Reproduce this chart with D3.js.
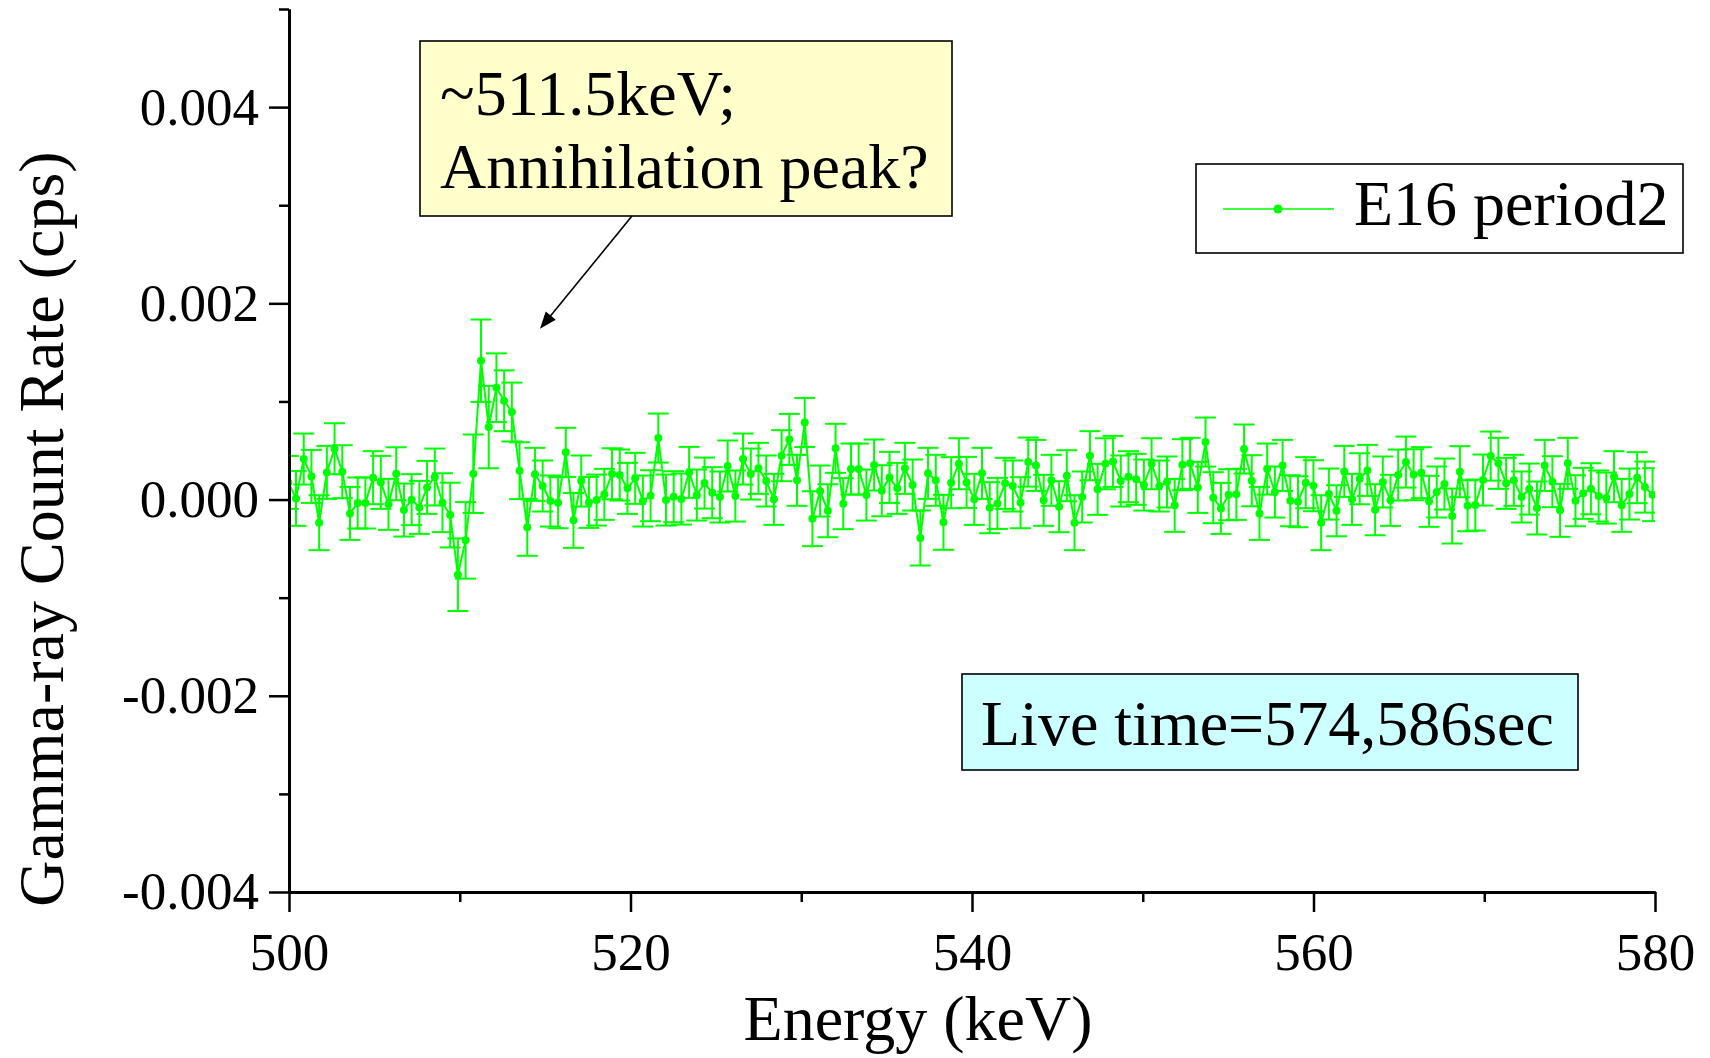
<!DOCTYPE html>
<html>
<head>
<meta charset="utf-8">
<script src="https://cdn.jsdelivr.net/npm/d3@7"></script>
<style>
    html, body { margin: 0; padding: 0; background: #ffffff; }
    svg { display: block; font-family: 'Liberation Serif', 'Times New Roman', serif; }
</style>
</head>
<body>
<svg id="chart" width="1710" height="1058"></svg>
<script>
'use strict';

// channel calibration of the spectrum (keV per channel)
var energyStart = 499.96,
    energyStep = 0.4514;

// net count rate per channel (cps)
var rate = [
    1.75e-4, 0.12e-4, 4.13e-4, 2.36e-4, -2.36e-4, 2.77e-4, 5.18e-4, 2.84e-4, -1.41e-4, -0.35e-4,
    -0.35e-4, 2.23e-4, 1.75e-4, -0.49e-4, 2.63e-4, -1.07e-4, -0.01e-4, -0.80e-4, 1.24e-4, 2.30e-4,
    -0.32e-4, -1.58e-4, -7.66e-4, -4.16e-4, 2.63e-4, 14.15e-4, 7.39e-4, 11.40e-4, 10.07e-4, 8.92e-4,
    2.94e-4, -2.83e-4, 2.57e-4, 1.38e-4, -0.15e-4, -0.32e-4, 4.81e-4, -2.12e-4, 1.89e-4, -0.29e-4,
    -0.05e-4, 0.53e-4, 2.63e-4, 2.50e-4, 1.14e-4, 2.16e-4, -0.15e-4, 0.39e-4, 6.27e-4, -0.05e-4,
    0.29e-4, 0.05e-4, 2.77e-4, 0.46e-4, 1.68e-4, 0.70e-4, 0.26e-4, 3.42e-4, 0.36e-4, 4.13e-4,
    2.60e-4, 3.18e-4, 1.89e-4, 0.02e-4, 4.47e-4, 6.13e-4, 1.96e-4, 7.86e-4, -1.95e-4, 0.87e-4,
    -1.14e-4, 5.22e-4, -0.42e-4, 3.11e-4, 3.11e-4, 0.46e-4, 3.52e-4, 0.90e-4, 2.26e-4, 1.14e-4,
    3.18e-4, 1.48e-4, -3.92e-4, 2.67e-4, 1.96e-4, -2.32e-4, 1.72e-4, 3.65e-4, 1.75e-4, 0.02e-4,
    2.67e-4, -0.83e-4, -0.39e-4, 1.65e-4, 1.38e-4, -0.32e-4, 3.82e-4, 3.48e-4, -0.08e-4, 1.96e-4,
    -0.73e-4, 2.43e-4, -2.36e-4, 0.26e-4, 4.47e-4, 1.04e-4, 3.65e-4, 3.89e-4, 1.89e-4, 2.33e-4,
    2.06e-4, 1.48e-4, 3.65e-4, 1.38e-4, 1.79e-4, -0.59e-4, 3.55e-4, 3.69e-4, 1.24e-4, 5.86e-4,
    0.19e-4, -0.90e-4, 0.49e-4, 0.53e-4, 5.15e-4, 1.92e-4, -1.41e-4, 3.11e-4, 0.77e-4, 3.48e-4,
    -0.12e-4, -0.22e-4, 1.72e-4, 1.41e-4, -2.36e-4, 0.56e-4, -1.14e-4, 2.87e-4, 0.02e-4, 2.12e-4,
    2.97e-4, -1.04e-4, 1.79e-4, -0.08e-4, 2.50e-4, 3.82e-4, 2.53e-4, 2.74e-4, -0.18e-4, 0.77e-4,
    1.58e-4, -1.68e-4, 2.84e-4, -0.63e-4, -0.56e-4, 1.99e-4, 4.43e-4, 3.69e-4, 1.65e-4, 1.96e-4,
    0.26e-4, 1.07e-4, -0.86e-4, 3.48e-4, 1.82e-4, -1.10e-4, 3.69e-4, -0.12e-4, 0.63e-4, 1.10e-4,
    0.36e-4, 0.15e-4, 2.33e-4, -0.59e-4, 0.56e-4, 2.23e-4, 1.27e-4, 0.50e-4
];

// one-sigma error of each channel (cps)
var rateErr = [
    2.7e-4, 2.8e-4, 2.6e-4, 2.7e-4, 2.8e-4, 2.7e-4, 2.6e-4, 2.7e-4, 2.7e-4, 2.6e-4,
    2.6e-4, 2.7e-4, 2.7e-4, 2.6e-4, 2.7e-4, 2.7e-4, 2.6e-4, 2.7e-4, 2.7e-4, 2.9e-4,
    3.0e-4, 3.3e-4, 3.7e-4, 3.9e-4, 4.0e-4, 4.2e-4, 4.2e-4, 3.5e-4, 3.1e-4, 3.0e-4,
    2.9e-4, 2.9e-4, 2.7e-4, 2.6e-4, 2.6e-4, 2.6e-4, 2.5e-4, 2.8e-4, 2.6e-4, 2.6e-4,
    2.6e-4, 2.6e-4, 2.6e-4, 2.6e-4, 2.6e-4, 2.6e-4, 2.6e-4, 2.6e-4, 2.5e-4, 2.6e-4,
    2.6e-4, 2.6e-4, 2.6e-4, 2.6e-4, 2.6e-4, 2.6e-4, 2.6e-4, 2.6e-4, 2.6e-4, 2.6e-4,
    2.6e-4, 2.6e-4, 2.6e-4, 2.6e-4, 2.6e-4, 2.6e-4, 2.6e-4, 2.5e-4, 2.8e-4, 2.6e-4,
    2.7e-4, 2.5e-4, 2.6e-4, 2.6e-4, 2.6e-4, 2.6e-4, 2.6e-4, 2.6e-4, 2.6e-4, 2.6e-4,
    2.6e-4, 2.6e-4, 2.8e-4, 2.6e-4, 2.6e-4, 2.8e-4, 2.6e-4, 2.6e-4, 2.6e-4, 2.6e-4,
    2.6e-4, 2.6e-4, 2.6e-4, 2.6e-4, 2.6e-4, 2.6e-4, 2.5e-4, 2.6e-4, 2.6e-4, 2.6e-4,
    2.6e-4, 2.6e-4, 2.8e-4, 2.6e-4, 2.5e-4, 2.6e-4, 2.6e-4, 2.6e-4, 2.6e-4, 2.6e-4,
    2.6e-4, 2.6e-4, 2.6e-4, 2.6e-4, 2.6e-4, 2.7e-4, 2.6e-4, 2.6e-4, 2.6e-4, 2.5e-4,
    2.6e-4, 2.6e-4, 2.6e-4, 2.6e-4, 2.5e-4, 2.6e-4, 2.7e-4, 2.6e-4, 2.6e-4, 2.6e-4,
    2.6e-4, 2.6e-4, 2.6e-4, 2.6e-4, 2.8e-4, 2.6e-4, 2.6e-4, 2.6e-4, 2.6e-4, 2.6e-4,
    2.6e-4, 2.6e-4, 2.6e-4, 2.6e-4, 2.6e-4, 2.6e-4, 2.6e-4, 2.6e-4, 2.6e-4, 2.6e-4,
    2.6e-4, 2.8e-4, 2.6e-4, 2.6e-4, 2.6e-4, 2.6e-4, 2.5e-4, 2.6e-4, 2.6e-4, 2.6e-4,
    2.6e-4, 2.6e-4, 2.7e-4, 2.6e-4, 2.6e-4, 2.7e-4, 2.6e-4, 2.6e-4, 2.6e-4, 2.6e-4,
    2.6e-4, 2.6e-4, 2.6e-4, 2.7e-4, 2.6e-4, 2.6e-4, 2.6e-4, 2.7e-4
];

var xTicks = [500, 520, 540, 560, 580],
    xMinorTicks = [510, 530, 550, 570],
    yTicks = [-0.004, -0.002, 0, 0.002, 0.004],
    yMinorTicks = [-0.003, -0.001, 0.001, 0.003, 0.005];

var seriesName = 'E16 period2',
    peakNote = ['~511.5keV;', 'Annihilation peak?'],
    peakPointer = {energy: 514.7, rate: 0.00174},
    liveTimeNote = 'Live time=574,586sec',
    xTitle = 'Energy (keV)',
    yTitle = 'Gamma-ray Count Rate (cps)';

var green = '#00ff00';

var svg = d3.select('#chart'),
    plot = {left: 289, right: 1655, top: 9, bottom: 892};

var data = rate.map(function(v, i){
    return {e: energyStart + i * energyStep, v: v, err: rateErr[i]};
});

var x = d3.scaleLinear().domain([500, 580]).range([plot.left, plot.right]),
    y = d3.scaleLinear().domain([-0.004, 0.005]).range([plot.bottom, plot.top]);

svg.append('defs').append('clipPath').attr('id', 'plotclip')
    .append('rect')
    .attr('x', plot.left).attr('y', plot.top)
    .attr('width', plot.right - plot.left).attr('height', plot.bottom - plot.top);

// ================ data: error bars, line, symbols
var layer = svg.append('g').attr('clip-path', 'url(#plotclip)');

var bars = layer.append('g').selectAll('g').data(data).enter().append('g')
    .attr('stroke', green).attr('stroke-width', 2).attr('fill', 'none');
bars.append('line')
    .attr('x1', function(d){ return x(d.e); }).attr('x2', function(d){ return x(d.e); })
    .attr('y1', function(d){ return y(d.v - d.err); }).attr('y2', function(d){ return y(d.v + d.err); });
bars.append('line')
    .attr('x1', function(d){ return x(d.e) - 10.5; }).attr('x2', function(d){ return x(d.e) + 10.5; })
    .attr('y1', function(d){ return y(d.v + d.err); }).attr('y2', function(d){ return y(d.v + d.err); });
bars.append('line')
    .attr('x1', function(d){ return x(d.e) - 10.5; }).attr('x2', function(d){ return x(d.e) + 10.5; })
    .attr('y1', function(d){ return y(d.v - d.err); }).attr('y2', function(d){ return y(d.v - d.err); });

layer.append('path')
    .datum(data)
    .attr('fill', 'none')
    .attr('stroke', green)
    .attr('stroke-width', 2)
    .attr('d', d3.line().x(function(d){ return x(d.e); }).y(function(d){ return y(d.v); }));

layer.append('g').selectAll('circle').data(data).enter().append('circle')
    .attr('cx', function(d){ return x(d.e); })
    .attr('cy', function(d){ return y(d.v); })
    .attr('r', 4)
    .attr('fill', green);

// ================ axes
var styleAxis = function(g){
    g.select('.domain').attr('stroke', '#000').attr('stroke-width', 3);
    g.selectAll('.tick line').attr('stroke', '#000').attr('stroke-width', 2.5);
    g.selectAll('.tick text').attr('fill', '#000').attr('font-size', 53)
        .attr('font-family', "'Liberation Serif', 'Times New Roman', serif");
};

svg.append('g')
    .attr('transform', 'translate(0,' + plot.bottom + ')')
    .call(d3.axisBottom(x).tickValues(xMinorTicks).tickSize(10).tickSizeOuter(0).tickFormat(''))
    .call(styleAxis);
svg.append('g')
    .attr('transform', 'translate(0,' + plot.bottom + ')')
    .call(d3.axisBottom(x).tickValues(xTicks).tickSize(20).tickSizeOuter(0).tickPadding(20)
        .tickFormat(function(d){ return String(d); }))
    .call(styleAxis);

svg.append('g')
    .attr('transform', 'translate(' + plot.left + ',0)')
    .call(d3.axisLeft(y).tickValues(yMinorTicks).tickSize(10).tickSizeOuter(0).tickFormat(''))
    .call(styleAxis);
svg.append('g')
    .attr('transform', 'translate(' + plot.left + ',0)')
    .call(d3.axisLeft(y).tickValues(yTicks).tickSize(20).tickSizeOuter(0).tickPadding(10)
        .tickFormat(function(d){ return d.toFixed(3); }))
    .call(styleAxis);

svg.append('text')
    .attr('x', 918)
    .attr('y', 1040)
    .attr('text-anchor', 'middle')
    .attr('font-size', 64)
    .text(xTitle);

svg.append('text')
    .attr('transform', 'translate(63,529) rotate(-90)')
    .attr('text-anchor', 'middle')
    .attr('font-size', 64)
    .text(yTitle);

// ================ peak note with arrow
var note = svg.append('g');
note.append('rect')
    .attr('x', 420).attr('y', 41).attr('width', 532).attr('height', 175)
    .attr('fill', '#ffffcc').attr('stroke', '#000').attr('stroke-width', 1.6);
note.selectAll('text').data(peakNote).enter().append('text')
    .attr('x', 440)
    .attr('y', function(d, i){ return 115 + i * 73; })
    .attr('font-size', 64)
    .text(function(d){ return d; });

var ax0 = 632, ay0 = 216,
    ax1 = x(peakPointer.energy), ay1 = y(peakPointer.rate),
    ang = Math.atan2(ay1 - ay0, ax1 - ax0),
    hl = 17, hw = 6.5;
note.append('line')
    .attr('x1', ax0).attr('y1', ay0)
    .attr('x2', ax1 - Math.cos(ang) * hl * 0.8).attr('y2', ay1 - Math.sin(ang) * hl * 0.8)
    .attr('stroke', '#000').attr('stroke-width', 1.6);
note.append('path')
    .attr('d', 'M' + ax1 + ',' + ay1 +
        'L' + (ax1 - Math.cos(ang) * hl + Math.sin(ang) * hw) + ',' + (ay1 - Math.sin(ang) * hl - Math.cos(ang) * hw) +
        'L' + (ax1 - Math.cos(ang) * hl - Math.sin(ang) * hw) + ',' + (ay1 - Math.sin(ang) * hl + Math.cos(ang) * hw) + 'Z')
    .attr('fill', '#000');

// ================ legend
var legend = svg.append('g');
legend.append('rect')
    .attr('x', 1196).attr('y', 164).attr('width', 487).attr('height', 89)
    .attr('fill', '#ffffff').attr('stroke', '#000').attr('stroke-width', 1.6);
legend.append('line')
    .attr('x1', 1223).attr('x2', 1334).attr('y1', 209).attr('y2', 209)
    .attr('stroke', green).attr('stroke-width', 1.6);
legend.append('circle')
    .attr('cx', 1278).attr('cy', 209).attr('r', 4.5).attr('fill', green);
legend.append('text')
    .attr('x', 1354).attr('y', 225)
    .attr('font-size', 64)
    .text(seriesName);

// ================ live time box
var live = svg.append('g');
live.append('rect')
    .attr('x', 962).attr('y', 674).attr('width', 616).attr('height', 96)
    .attr('fill', '#ccffff').attr('stroke', '#000').attr('stroke-width', 1.6);
live.append('text')
    .attr('x', 981).attr('y', 745)
    .attr('font-size', 64)
    .text(liveTimeNote);
</script>
</body>
</html>
